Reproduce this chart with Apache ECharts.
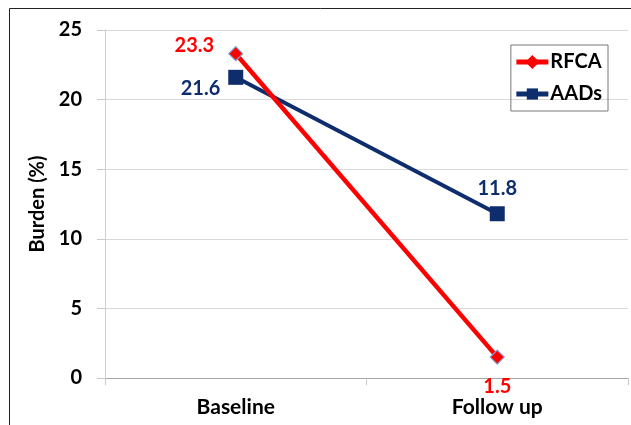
<!DOCTYPE html>
<html><head><meta charset="utf-8">
<script src="https://cdn.jsdelivr.net/npm/echarts@6/dist/echarts.min.js"></script>
<style>html,body{margin:0;padding:0;background:#fff}#c{width:631px;height:425px}</style>
</head><body><div id="c"></div>
<script>
const categories = ['Baseline', 'Follow up'];
const rfca = [23.3, 1.5];
const aads = [21.6, 11.8];
const yTicks = [0, 5, 10, 15, 20, 25];

const FONT = 'Lato, "Open Sans", sans-serif';
const chart = echarts.init(document.getElementById('c'), null, {renderer: 'canvas'});
chart.setOption({
  animation: false,
  backgroundColor: '#fff',
  grid: {left: 105, right: 3, top: 30, bottom: 47},
  graphic: [
    {type: 'line', shape: {x1: 9.5, y1: 8.5, x2: 631, y2: 8.5}, style: {stroke: '#222', lineWidth: 1}},
    {type: 'line', shape: {x1: 9.5, y1: 8.5, x2: 9.5, y2: 425}, style: {stroke: '#222', lineWidth: 1}}
  ],
  legend: {
    right: 23, top: 45,
    orient: 'vertical',
    itemGap: 12,
    itemWidth: 32, itemHeight: 14,
    padding: [7, 6, 7, 3],
    borderColor: '#777', borderWidth: 1,
    textStyle: {fontFamily: FONT, fontWeight: 'bold', fontSize: 20, color: '#000', padding: [0, 0, 0, -3]},
    data: [
      {name: 'RFCA', lineStyle: {width: 5}, itemStyle: {borderColor: '#ff0000'}},
      {name: 'AADs', lineStyle: {width: 5}}
    ]
  },
  xAxis: {
    type: 'category',
    data: categories,
    boundaryGap: true,
    axisLine: {lineStyle: {color: '#a6a6a6', width: 1}},
    axisTick: {show: true, length: 7, lineStyle: {color: '#c8c8c8'}},
    axisLabel: {fontFamily: FONT, fontWeight: 'bold', fontSize: 21, color: '#000', margin: 19}
  },
  yAxis: {
    type: 'value',
    min: 0, max: 25, interval: 5,
    name: 'Burden (%)',
    nameLocation: 'middle',
    nameGap: 50,
    nameTextStyle: {fontFamily: FONT, fontWeight: 'bold', fontSize: 20, color: '#000'},
    axisLine: {show: true, lineStyle: {color: '#d0d0d0'}},
    axisTick: {show: true, length: 8, lineStyle: {color: '#c8c8c8'}},
    splitLine: {lineStyle: {color: '#d9d9d9', width: 1}},
    axisLabel: {fontFamily: FONT, fontWeight: 'bold', fontSize: 20, color: '#000', margin: 23,
      formatter: v => yTicks.includes(v) ? String(v) : ''}
  },
  series: [
    {
      name: 'RFCA', type: 'line',
      data: [
        {value: rfca[0], label: {position: 'left', offset: [-9, -8]}},
        {value: rfca[1], label: {position: 'bottom', offset: [0, 7]}}
      ],
      symbol: 'diamond', symbolSize: 14,
      lineStyle: {color: '#ff0000', width: 4.5},
      itemStyle: {color: '#ff0000', borderColor: '#7f9fd0', borderWidth: 1.2},
      label: {show: true, fontFamily: FONT, fontWeight: 'bold', fontSize: 20, color: '#ff0000'},
      z: 3
    },
    {
      name: 'AADs', type: 'line',
      data: [
        {value: aads[0], label: {position: 'left', offset: [-3, 11]}},
        {value: aads[1], label: {position: 'top', offset: [0, -3]}}
      ],
      symbol: 'rect', symbolSize: 15,
      lineStyle: {color: '#0e2d6d', width: 4},
      itemStyle: {color: '#0e2d6d'},
      label: {show: true, fontFamily: FONT, fontWeight: 'bold', fontSize: 20, color: '#0e2d6d'},
      z: 2
    }
  ]
});
</script></body></html>
